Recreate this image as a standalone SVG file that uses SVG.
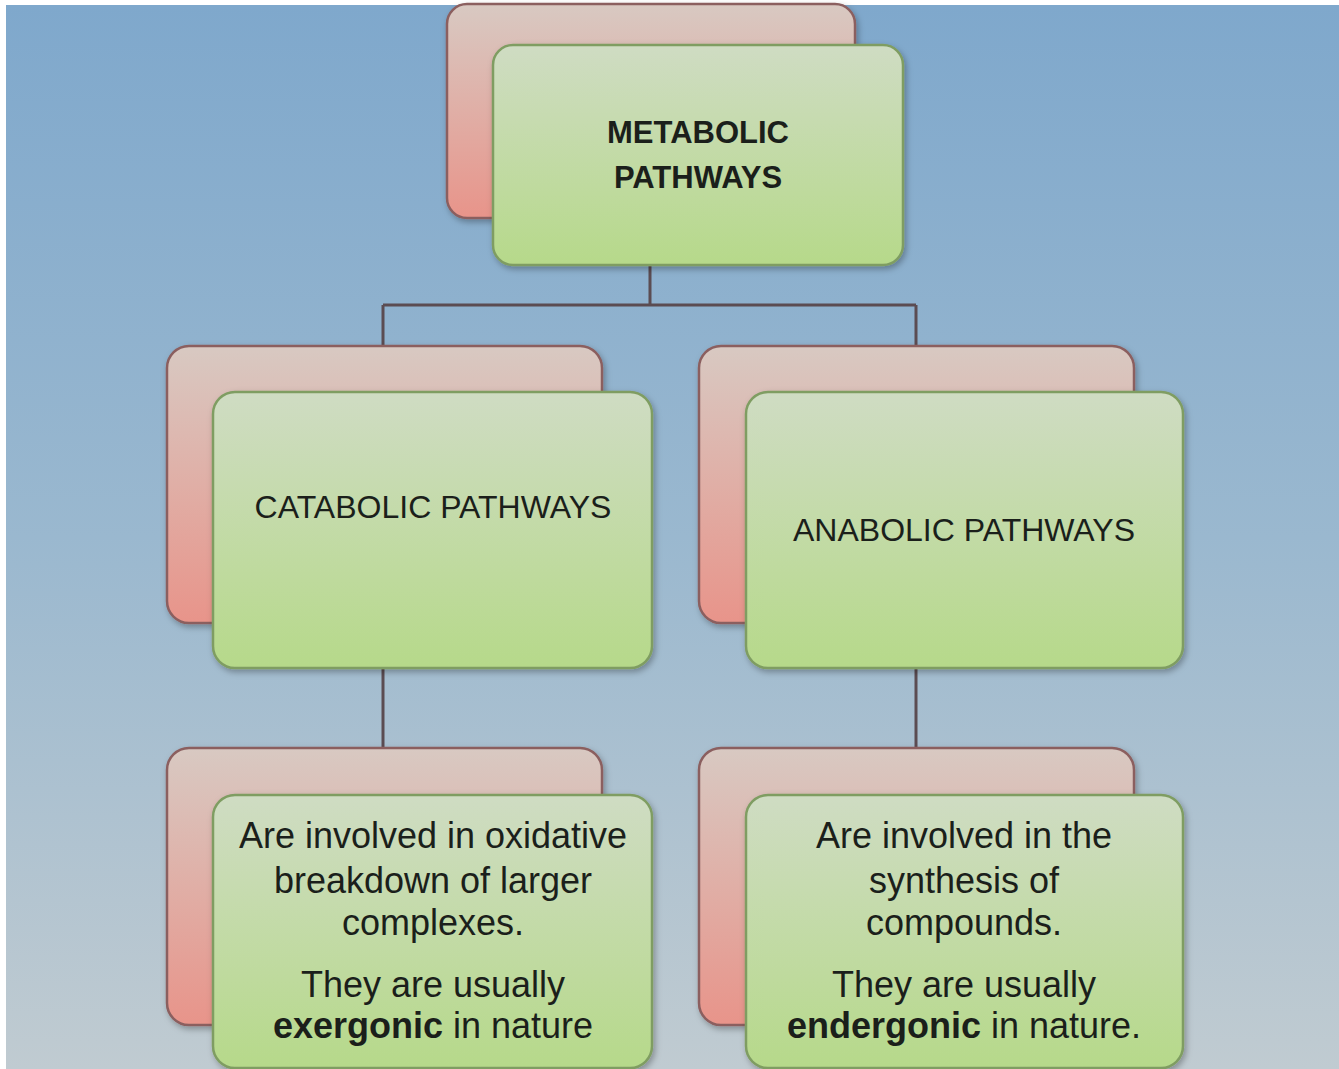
<svg xmlns="http://www.w3.org/2000/svg" width="1339" height="1069" viewBox="0 0 1339 1069">
<defs>
<linearGradient id="bg" x1="0" y1="0" x2="0" y2="1">
<stop offset="0" stop-color="#7fa8cc"/>
<stop offset="0.5" stop-color="#9ab8cf"/>
<stop offset="1" stop-color="#c0cbd1"/>
</linearGradient>
<linearGradient id="pink" x1="0" y1="0" x2="0" y2="1">
<stop offset="0" stop-color="#d8c9c2"/>
<stop offset="1" stop-color="#e8948a"/>
</linearGradient>
<linearGradient id="green" x1="0" y1="0" x2="0" y2="1">
<stop offset="0" stop-color="#cfdcc3"/>
<stop offset="1" stop-color="#b6d98a"/>
</linearGradient>
<filter id="sh" x="-10%" y="-10%" width="125%" height="125%">
<feDropShadow dx="2" dy="3" stdDeviation="3" flood-color="#000" flood-opacity="0.3"/>
</filter>
</defs>
<style>
.back{fill:url(#pink);stroke:#8b5f5f;stroke-width:2.5;filter:url(#sh)}
.front{fill:url(#green);stroke:#7f9d62;stroke-width:2.5;filter:url(#sh)}
.conn{stroke:#5b4c52;stroke-width:3;fill:none}
text{font-family:"Liberation Sans",Arial,sans-serif;fill:#1b1f1b;text-anchor:middle}
.title{font-size:31px;font-weight:bold}
.mid{font-size:32px}
.body{font-size:36px}
.b{font-weight:bold}
</style>
<rect x="0" y="0" width="1339" height="1069" fill="#ffffff"/>
<rect x="6" y="5" width="1333" height="1064" fill="url(#bg)"/>
<g id="connectors">
<path class="conn" d="M650 265 V305 M383 305 H916 M383 305 V346 M916 305 V346"/>
<path class="conn" d="M383 668 V748"/>
<path class="conn" d="M916 668 V748"/>
</g>
<g id="node-metabolic">
<rect class="back" x="447" y="4" width="408" height="214" rx="20"/>
<rect class="front" x="493" y="45" width="410" height="220" rx="20"/>
<text class="title" x="698" y="143">METABOLIC</text>
<text class="title" x="698" y="188">PATHWAYS</text>
</g>
<g id="node-catabolic">
<rect class="back" x="167" y="346" width="435" height="277" rx="22"/>
<rect class="front" x="213" y="392" width="439" height="276" rx="22"/>
<text class="mid" x="433" y="518">CATABOLIC PATHWAYS</text>
</g>
<g id="node-anabolic">
<rect class="back" x="699" y="346" width="435" height="277" rx="22"/>
<rect class="front" x="746" y="392" width="437" height="276" rx="22"/>
<text class="mid" x="964" y="541">ANABOLIC PATHWAYS</text>
</g>
<g id="node-catabolic-desc">
<rect class="back" x="167" y="748" width="435" height="277" rx="22"/>
<rect class="front" x="213" y="795" width="439" height="273" rx="22"/>
<text class="body" x="433" y="848">Are involved in oxidative</text>
<text class="body" x="433" y="893">breakdown of larger</text>
<text class="body" x="433" y="935">complexes.</text>
<text class="body" x="433" y="997">They are usually</text>
<text class="body" x="433" y="1038"><tspan class="b">exergonic</tspan> in nature</text>
</g>
<g id="node-anabolic-desc">
<rect class="back" x="699" y="748" width="435" height="277" rx="22"/>
<rect class="front" x="746" y="795" width="437" height="273" rx="22"/>
<text class="body" x="964" y="848">Are involved in the</text>
<text class="body" x="964" y="893">synthesis of</text>
<text class="body" x="964" y="935">compounds.</text>
<text class="body" x="964" y="997">They are usually</text>
<text class="body" x="964" y="1038"><tspan class="b">endergonic</tspan> in nature.</text>
</g>
</svg>
